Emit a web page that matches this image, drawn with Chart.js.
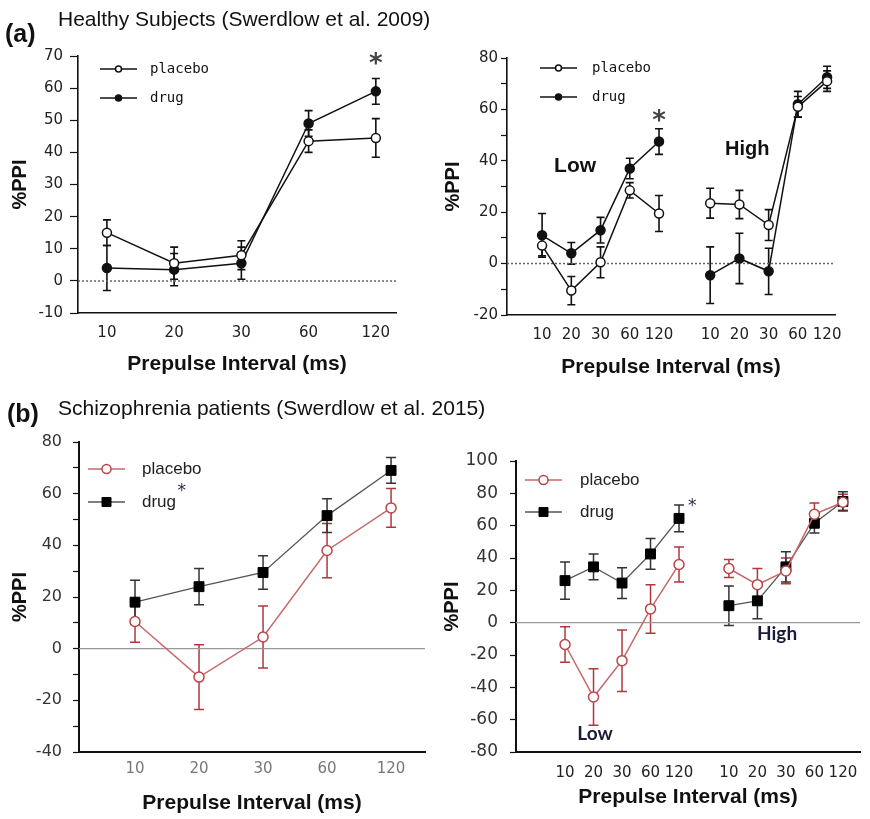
<!DOCTYPE html>
<html>
<head>
<meta charset="utf-8">
<script src="https://cdn.jsdelivr.net/npm/chart.js@4.4.0/dist/chart.umd.min.js"></script>
<style>
  body { margin: 0; background: #fff; width: 870px; height: 819px; position: relative; overflow: hidden; font-family: "Liberation Sans", Arial, sans-serif; color: #111; }
  canvas { position: absolute; }
  .txt { position: absolute; white-space: nowrap; line-height: 1; }
  .tag { font-weight: bold; font-size: 25px; }
  .head { font-size: 21px; }
</style>
</head>
<body>
<canvas id="chartA1" width="430" height="340" style="left:0;top:40px"></canvas>
<canvas id="chartA2" width="440" height="340" style="left:430px;top:40px"></canvas>
<canvas id="chartB1" width="435" height="399" style="left:0;top:420px"></canvas>
<canvas id="chartB2" width="435" height="399" style="left:435px;top:420px"></canvas>

<div class="txt tag" style="left:5px;top:21px">(a)</div>
<div class="txt head" style="left:58px;top:8px">Healthy Subjects (Swerdlow et al. 2009)</div>
<div class="txt tag" style="left:7px;top:401px">(b)</div>
<div class="txt head" style="left:58px;top:397px">Schizophrenia patients (Swerdlow et al. 2015)</div>

<script>
// x categories
const xLabels5 = ['10', '20', '30', '60', '120'];
const xLabels10 = xLabels5.concat(xLabels5);
const xPos5 = [0, 1, 2, 3, 4];
const xPos10 = [0, 1, 2, 3, 4, 5.75, 6.75, 7.75, 8.75, 9.75];

// (a) healthy subjects, left panel
const a1Placebo = [15, 5.5, 8, 43.5, 44.5];
const a1PlaceboErr = [4, 5, 4.5, 3.5, 6];
const a1Drug = [4, 3.5, 5.5, 49, 59];
const a1DrugErr = [7, 5, 5, 4, 4];

// (a) healthy subjects, right panel (Low / High)
const a2PlaceboLow = [7, -10.5, 0.5, 28.5, 19.5];
const a2PlaceboLowErr = [4, 5.5, 6, 3, 7];
const a2PlaceboHigh = [23.5, 23, 15, 61, 71];
const a2PlaceboHighErr = [5.8, 5.5, 6, 4, 4];
const a2DrugLow = [11, 4, 13, 37, 47.5];
const a2DrugLowErr = [8.5, 4.2, 5, 4, 5];
const a2DrugHigh = [-4.5, 2, -3, 62, 72.5];
const a2DrugHighErr = [11, 9.8, 9, 5, 4.3];

// (b) schizophrenia patients, left panel
const b1Placebo = [10.5, -11, 4.5, 38, 54.5];
const b1PlaceboErr = [8, 12.5, 12, 10.5, 7.5];
const b1Drug = [18, 24, 29.5, 51.5, 69];
const b1DrugErr = [8.5, 7, 6.5, 6.5, 5];

// (b) schizophrenia patients, right panel (Low / High)
const b2PlaceboLow = [-13.5, -46, -23.5, 8.5, 36];
const b2PlaceboLowErr = [11, 17.5, 19, 15, 10.8];
const b2PlaceboHigh = [33.5, 23.5, 32, 67, 74.5];
const b2PlaceboHighErr = [5.5, 10, 8, 7, 5];
const b2DrugLow = [26, 34.5, 24.5, 42.5, 64.5];
const b2DrugLowErr = [11.5, 8, 9.5, 9.5, 8.3];
const b2DrugHigh = [10.5, 13.5, 34.5, 61.5, 75];
const b2DrugHighErr = [12.2, 11, 9.3, 6, 6];

function pts(xs, ys, es) {
    return ys.map((y, i) => ({ x: xs[i], y: y, e: es[i] }));
}
// low group, a null gap, then high group
function split(low, lowErr, high, highErr) {
    return pts(xPos10.slice(0, 5), low, lowErr)
        .concat([{ x: 4.875, y: null, e: 0 }], pts(xPos10.slice(5), high, highErr));
}

// error bars drawn under the markers
const errorBars = {
    id: 'errorBars',
    beforeDatasetsDraw(chart) {
        const ctx = chart.ctx, xs = chart.scales.x, ys = chart.scales.y;
        chart.data.datasets.forEach(ds => {
            ctx.save();
            ctx.strokeStyle = ds.errColor;
            ctx.lineWidth = ds.errWidth;
            ds.data.forEach(p => {
                if (p.y == null) return;
                const x = xs.getPixelForValue(p.x);
                const top = ys.getPixelForValue(p.y + p.e);
                const bot = ys.getPixelForValue(p.y - p.e);
                const c = ds.capHalf;
                ctx.beginPath();
                ctx.moveTo(x, top); ctx.lineTo(x, bot);
                ctx.moveTo(x - c, top); ctx.lineTo(x + c, top);
                ctx.moveTo(x - c, bot); ctx.lineTo(x + c, bot);
                ctx.stroke();
            });
            ctx.restore();
        });
    }
};

const zeroLine = {
    id: 'zeroLine',
    beforeDatasetsDraw(chart, args, opts) {
        const ctx = chart.ctx, area = chart.chartArea;
        const y = chart.scales.y.getPixelForValue(0);
        ctx.save();
        ctx.strokeStyle = opts.color;
        ctx.lineWidth = opts.width;
        ctx.setLineDash(opts.dash || []);
        ctx.beginPath();
        ctx.moveTo(area.left, y);
        ctx.lineTo(area.right, y);
        ctx.stroke();
        ctx.restore();
    }
};

// text notes placed in data units
const notes = {
    id: 'notes',
    afterDatasetsDraw(chart, args, opts) {
        const ctx = chart.ctx;
        (opts.items || []).forEach(n => {
            ctx.save();
            ctx.font = n.font;
            ctx.fillStyle = n.color;
            ctx.textAlign = 'center';
            ctx.textBaseline = 'middle';
            ctx.fillText(n.text, chart.scales.x.getPixelForValue(n.x), chart.scales.y.getPixelForValue(n.y));
            ctx.restore();
        });
    }
};

// legend: line with marker in the middle, inside the plot
const miniLegend = {
    id: 'miniLegend',
    afterDraw(chart, args, opts) {
        const ctx = chart.ctx, area = chart.chartArea;
        chart.data.datasets.slice(0, 2).forEach((ds, i) => {
            const y = area.top + opts.dy + i * opts.rowGap;
            const x0 = area.left + opts.dx, x1 = x0 + opts.lineLen, xm = (x0 + x1) / 2;
            ctx.save();
            ctx.strokeStyle = ds.borderColor;
            ctx.lineWidth = ds.borderWidth;
            ctx.beginPath(); ctx.moveTo(x0, y); ctx.lineTo(x1, y); ctx.stroke();
            ctx.fillStyle = ds.pointBackgroundColor;
            ctx.strokeStyle = ds.pointBorderColor;
            ctx.lineWidth = ds.pointBorderWidth;
            const r = opts.markerRadius;
            ctx.beginPath();
            if (ds.pointStyle === 'rect') {
                ctx.rect(xm - r, y - r, 2 * r, 2 * r);
            } else {
                ctx.arc(xm, y, r, 0, Math.PI * 2);
            }
            ctx.fill(); ctx.stroke();
            ctx.font = opts.font;
            ctx.fillStyle = opts.color;
            ctx.textAlign = 'left';
            ctx.textBaseline = 'middle';
            ctx.fillText(ds.label, area.left + opts.textDx, y);
            ctx.restore();
        });
    }
};

function panel(id, o) {
    return new Chart(document.getElementById(id), {
        type: 'line',
        data: { datasets: o.datasets },
        plugins: [errorBars, zeroLine, notes, miniLegend],
        options: {
            responsive: false,
            animation: false,
            devicePixelRatio: 1,
            spanGaps: false,
            layout: { padding: { top: o.padTop, right: o.padRight, left: 0, bottom: 0 } },
            plugins: {
                legend: { display: false },
                tooltip: { enabled: false },
                zeroLine: o.zero,
                notes: { items: o.notes },
                miniLegend: o.legend
            },
            scales: {
                x: {
                    type: 'linear',
                    min: o.xMin,
                    max: o.xMax,
                    afterBuildTicks: s => { s.ticks = o.xPos.map(v => ({ value: v })); },
                    afterFit: s => { s.height = o.xHeight; },
                    grid: { drawOnChartArea: false, drawTicks: false },
                    border: { color: '#111', width: o.axisWidth },
                    ticks: {
                        autoSkip: false, maxRotation: 0, padding: o.xTickPad,
                        font: o.xTickFont, color: o.xTickColor,
                        callback: (v, i) => o.xLabels[i]
                    },
                    title: {
                        display: true, text: 'Prepulse Interval (ms)', color: '#111',
                        font: { family: 'Liberation Sans', size: 21, weight: 'bold' },
                        padding: { top: 0, bottom: o.xTitlePad }
                    }
                },
                y: {
                    min: o.yMin,
                    max: o.yMax,
                    afterFit: s => { s.width = o.yWidth; },
                    grid: { drawOnChartArea: false, drawTicks: true, tickLength: o.tickLen, tickColor: '#111', tickWidth: 1.2 },
                    border: { color: '#111', width: o.axisWidth },
                    ticks: {
                        stepSize: o.yStep, padding: o.yTickPad,
                        font: o.yTickFont, color: o.yTickColor,
                        callback: v => (v % o.yLabelStep === 0 ? v : '')
                    },
                    title: {
                        display: true, text: '%PPI', color: '#111',
                        font: { family: 'Liberation Sans', size: 20, weight: 'bold' },
                        padding: { top: o.yTitlePad, bottom: 0 }
                    }
                }
            }
        }
    });
}

// styles for the two figure rows
function bwSet(label, filled, data) {
    return {
        label: label, data: data,
        borderColor: '#111', borderWidth: 1.5,
        pointStyle: 'circle', pointRadius: 4.5,
        pointBackgroundColor: filled ? '#111' : '#fff',
        pointBorderColor: '#111', pointBorderWidth: 1.5,
        errColor: '#111', errWidth: 1.6, capHalf: 4
    };
}
function placeboRed(data) {
    return {
        label: 'placebo', data: data,
        borderColor: '#c8676a', borderWidth: 1.5,
        pointStyle: 'circle', pointRadius: 5,
        pointBackgroundColor: '#fff', pointBorderColor: '#b8454a', pointBorderWidth: 1.5,
        errColor: '#b0383d', errWidth: 1.5, capHalf: 5
    };
}
function drugSquare(data) {
    return {
        label: 'drug', data: data,
        borderColor: '#555', borderWidth: 1.3,
        pointStyle: 'rect', pointRadius: 7,
        pointBackgroundColor: '#000', pointBorderColor: '#000', pointBorderWidth: 1,
        errColor: '#333', errWidth: 1.5, capHalf: 5
    };
}

const tickA = { family: 'DejaVu Sans', size: 15 };
const legendA = { dy: 13, rowGap: 29, lineLen: 37, markerRadius: 3, font: '14px "DejaVu Sans Mono"', color: '#111' };
const starA = 'bold 26px "DejaVu Sans"';

panel('chartA1', {
    datasets: [
        bwSet('placebo', false, pts(xPos5, a1Placebo, a1PlaceboErr)),
        bwSet('drug', true, pts(xPos5, a1Drug, a1DrugErr))
    ],
    padTop: 15, padRight: 34, yWidth: 78, xHeight: 67,
    xMin: -0.43, xMax: 4.3, xPos: xPos5, xLabels: xLabels5,
    yMin: -10, yMax: 70, yStep: 5, yLabelStep: 10,
    tickLen: 8, yTickPad: 7, xTickPad: 11, xTitlePad: 3, yTitlePad: 8,
    axisWidth: 1.6,
    xTickFont: tickA, xTickColor: '#222', yTickFont: tickA, yTickColor: '#222',
    zero: { color: '#666', width: 1.5, dash: [2, 2] },
    notes: [{ x: 4, y: 67, text: '*', font: starA, color: '#444' }],
    legend: Object.assign({ dx: 22, textDx: 72 }, legendA)
});

panel('chartA2', {
    datasets: [
        bwSet('placebo', false, split(a2PlaceboLow, a2PlaceboLowErr, a2PlaceboHigh, a2PlaceboHighErr)),
        bwSet('drug', true, split(a2DrugLow, a2DrugLowErr, a2DrugHigh, a2DrugHighErr))
    ],
    padTop: 18, padRight: 35, yWidth: 77, xHeight: 65,
    xMin: -1.2, xMax: 10.02, xPos: xPos10, xLabels: xLabels10,
    yMin: -20, yMax: 80, yStep: 10, yLabelStep: 20,
    tickLen: 6, yTickPad: 3, xTickPad: 11, xTitlePad: 0.5, yTitlePad: 11,
    axisWidth: 1.6,
    xTickFont: tickA, xTickColor: '#222', yTickFont: tickA, yTickColor: '#222',
    zero: { color: '#666', width: 1.5, dash: [2, 2] },
    notes: [
        { x: 4, y: 55, text: '*', font: starA, color: '#444' },
        { x: 1.13, y: 38, text: 'Low', font: 'bold 21px "Liberation Sans"', color: '#111' },
        { x: 7.02, y: 44.5, text: 'High', font: 'bold 20px "Liberation Sans"', color: '#111' }
    ],
    legend: Object.assign({ dx: 33, textDx: 85 }, legendA, { dy: 10 })
});

const tickB = { family: 'DejaVu Sans', size: 16 };
const tickBx = { family: 'DejaVu Sans', size: 15 };
const legendB = { rowGap: 33, lineLen: 37, markerRadius: 4.5, font: '17px "Liberation Sans"', color: '#222' };

panel('chartB1', {
    datasets: [placeboRed(pts(xPos5, b1Placebo, b1PlaceboErr)), drugSquare(pts(xPos5, b1Drug, b1DrugErr))],
    padTop: 22, padRight: 10, yWidth: 79, xHeight: 67,
    xMin: -0.875, xMax: 4.53, xPos: xPos5, xLabels: xLabels5,
    yMin: -40, yMax: 80, yStep: 10, yLabelStep: 20,
    tickLen: 6, yTickPad: 11, xTickPad: 8, xTitlePad: 3, yTitlePad: 8,
    axisWidth: 2,
    xTickFont: tickBx, xTickColor: '#777', yTickFont: tickB, yTickColor: '#333',
    zero: { color: '#999', width: 1.2 },
    notes: [{ x: 0.73, y: 61, text: '*', font: '17px "DejaVu Sans"', color: '#1c2a4a' }],
    legend: Object.assign({ dx: 9, dy: 27, textDx: 63 }, legendB)
});

panel('chartB2', {
    datasets: [
        placeboRed(split(b2PlaceboLow, b2PlaceboLowErr, b2PlaceboHigh, b2PlaceboHighErr)),
        drugSquare(split(b2DrugLow, b2DrugLowErr, b2DrugHigh, b2DrugHighErr))
    ],
    padTop: 41, padRight: 10, yWidth: 81, xHeight: 67,
    xMin: -1.72, xMax: 10.35, xPos: xPos10, xLabels: xLabels10,
    yMin: -80, yMax: 100, yStep: 10, yLabelStep: 20,
    tickLen: 6, yTickPad: 12, xTickPad: 12, xTitlePad: 9, yTitlePad: 5,
    axisWidth: 2,
    xTickFont: tickBx, xTickColor: '#222', yTickFont: { family: 'DejaVu Sans', size: 17 }, yTickColor: '#333',
    zero: { color: '#999', width: 1.2 },
    notes: [
        { x: 4.46, y: 72, text: '*', font: '17px "DejaVu Sans"', color: '#1c2a4a' },
        { x: 1.05, y: -68.6, text: 'Low', font: 'bold 19px Lato', color: '#1b1b3b' },
        { x: 7.44, y: -6.8, text: 'High', font: 'bold 19px Lato', color: '#1b1b3b' }
    ],
    legend: Object.assign({ dx: 9, dy: 19, textDx: 64 }, legendB, { rowGap: 32 })
});
</script>
</body>
</html>
